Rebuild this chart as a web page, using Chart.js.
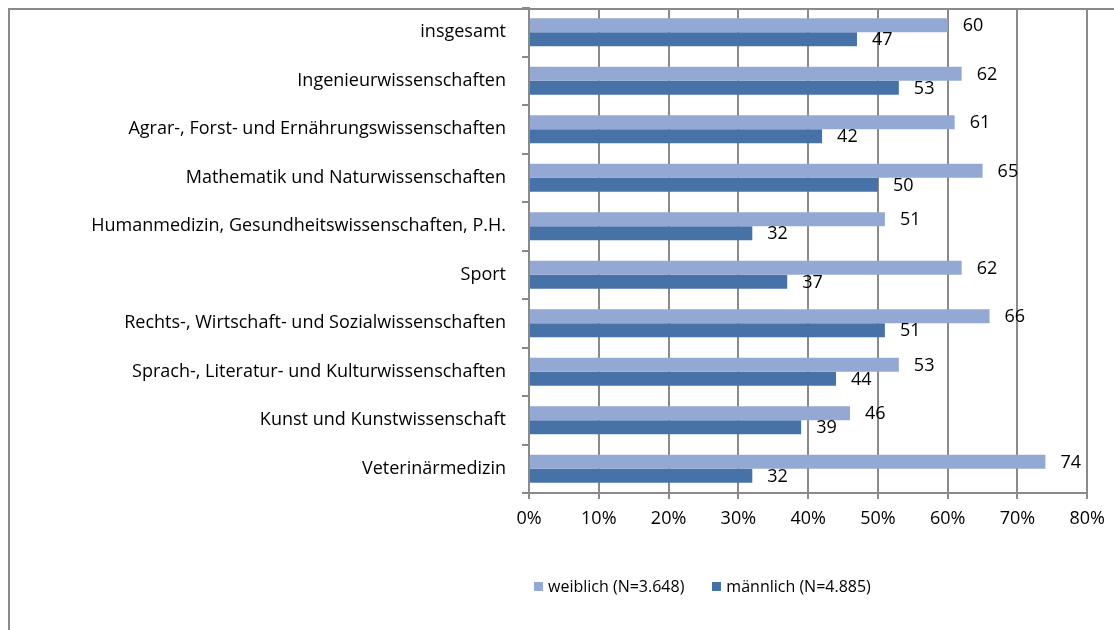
<!DOCTYPE html>
<html>
<head>
<meta charset="utf-8">
<script src="https://cdn.jsdelivr.net/npm/chart.js@4/dist/chart.umd.min.js"></script>
<style>
  body { margin: 0; background: #fff; font-family: "Open Sans", sans-serif; }
  #wrap { position: relative; width: 1114px; height: 630px; overflow: hidden; }
  #frame { position: absolute; left: 8px; top: 8px; right: -4px; bottom: -4px;
           border-top: 2px solid #8a8a8a; border-left: 2px solid #8a8a8a; }
  #legend { position: absolute; left: 534px; top: 575px; font-size: 16px; color: #000;
            display: flex; gap: 28px; white-space: nowrap; }
  #legend span.box { display: inline-block; width: 9px; height: 9px; margin-right: 5px; }
  #legend div { display: flex; align-items: center; }
</style>
</head>
<body>
<div id="wrap">
  <div id="frame"></div>
  <canvas id="myChart"></canvas>
  <div id="legend"></div>
</div>
<script>
// categories, top to bottom
const categories = [
  'insgesamt',
  'Ingenieurwissenschaften',
  'Agrar-, Forst- und Ernährungswissenschaften',
  'Mathematik und Naturwissenschaften',
  'Humanmedizin, Gesundheitswissenschaften, P.H.',
  'Sport',
  'Rechts-, Wirtschaft- und Sozialwissenschaften',
  'Sprach-, Literatur- und Kulturwissenschaften',
  'Kunst und Kunstwissenschaft',
  'Veterinärmedizin'
];
const weiblich = [60, 62, 61, 65, 51, 62, 66, 53, 46, 74];
const maennlich = [47, 53, 42, 50, 32, 37, 51, 44, 39, 32];
const seriesLabels = ['weiblich (N=3.648)', 'männlich (N=4.885)'];
const seriesColors = ['#93A9D3', '#4672A8'];
const xTicks = [0, 10, 20, 30, 40, 50, 60, 70, 80];

const fontFamily = '"Open Sans", sans-serif';

// draws the value next to each bar end
const valueLabels = {
  id: 'valueLabels',
  afterDatasetsDraw(chart) {
    const ctx = chart.ctx;
    ctx.save();
    ctx.font = '18px ' + fontFamily;
    ctx.fillStyle = '#000';
    ctx.textAlign = 'left';
    ctx.textBaseline = 'middle';
    chart.data.datasets.forEach((ds, i) => {
      chart.getDatasetMeta(i).data.forEach((bar, j) => {
        ctx.fillText(ds.data[j], bar.x + 15, bar.y + 1);
      });
    });
    ctx.restore();
  }
};

const ctx = document.getElementById('myChart').getContext('2d');
new Chart(ctx, {
  type: 'bar',
  data: {
    labels: categories,
    datasets: [
      { label: seriesLabels[0], data: weiblich, backgroundColor: seriesColors[0] },
      { label: seriesLabels[1], data: maennlich, backgroundColor: seriesColors[1] }
    ]
  },
  options: {
    indexAxis: 'y',
    responsive: true,
    maintainAspectRatio: false,
    animation: false,
    datasets: { bar: { categoryPercentage: 0.58, barPercentage: 1.0 } },
    layout: { padding: { left: 0, top: 8, right: 25, bottom: 0 } },
    plugins: { legend: { display: false }, tooltip: { enabled: false } },
    scales: {
      x: {
        min: 0,
        max: 80,
        afterBuildTicks: scale => { scale.ticks = xTicks.map(v => ({ value: v })); },
        afterFit: scale => { scale.height = 137; },
        ticks: {
          callback: v => v + '%',
          color: '#000',
          padding: 9,
          font: { family: fontFamily, size: 18 }
        },
        grid: { color: '#8a8a8a', lineWidth: 2, tickLength: 6 },
        border: { color: '#8a8a8a', width: 2 }
      },
      y: {
        afterFit: scale => {
          scale.width = 529;
          scale.paddingTop = 0;
          scale.paddingBottom = 0;
        },
        ticks: {
          color: '#000',
          padding: 16,
          font: { family: fontFamily, size: 18 }
        },
        grid: { drawOnChartArea: false, color: '#8a8a8a', lineWidth: 2, tickLength: 7 },
        border: { color: '#8a8a8a', width: 2 }
      }
    }
  },
  plugins: [valueLabels]
});

// legend
const legend = document.getElementById('legend');
seriesLabels.forEach((lab, i) => {
  const item = document.createElement('div');
  item.innerHTML = '<span class="box" style="background:' + seriesColors[i] + '"></span>' + lab;
  legend.appendChild(item);
});
</script>
</body>
</html>
